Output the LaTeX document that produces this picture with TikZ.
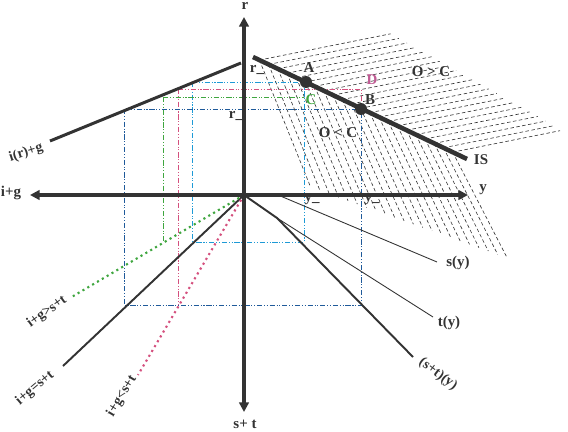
\documentclass[tikz,border=0pt]{standalone}
\usepackage{fontspec}
\setmainfont{Liberation Serif}
\usetikzlibrary{arrows.meta}
\definecolor{cyanl}{HTML}{1E9AD6}
\definecolor{darkb}{HTML}{1F5A9A}
\definecolor{pinkl}{HTML}{D4507E}
\definecolor{greenl}{HTML}{3FA63F}
\definecolor{dlab}{HTML}{C05C94}
\definecolor{ink}{HTML}{333333}
\begin{document}
\begin{tikzpicture}[x=0.02cm,y=-0.02cm,
  font=\fontsize{8.5}{10}\selectfont\bfseries,
  axis/.style={line width=2pt, draw=ink, {Triangle[length=5.5pt,width=5.5pt]}-{Triangle[length=5.5pt,width=5.5pt]}},
  guide/.style={line width=0.55pt, dash pattern=on 3pt off 1pt on 0.6pt off 1pt on 0.6pt off 1pt},
  hatch/.style={line width=0.35pt, draw=ink, dash pattern=on 2pt off 1.4pt},
  dotline/.style={line width=1.2pt, dash pattern=on 1.2pt off 2pt},
  lab/.style={inner sep=0pt, text=ink},
  rlab/.style={inner sep=0pt, text=ink, font=\fontsize{8}{9}\selectfont\bfseries},
  pt/.style={circle, fill=ink, inner sep=0pt, minimum size=0.24cm}]
\useasboundingbox (0,0) rectangle (568,432);
% coordinates
\coordinate (O) at (244,195);
\coordinate (rtop) at (244,17);
\coordinate (sbot) at (244,412);
\coordinate (xl) at (30,195);
\coordinate (xr) at (468,195);
\coordinate (IS0) at (253,57);
\coordinate (IS1) at (467,159);
\coordinate (I0) at (50,141);
\coordinate (I1) at (241,63);
\coordinate (A) at (306,82);
\coordinate (B) at (361,109);
\coordinate (D) at (361,89);
\coordinate (C) at (304,97);
\coordinate (iA) at (192,82);
\coordinate (iD) at (178,89);
\coordinate (iC) at (163,97);
\coordinate (iB) at (124,109);
\coordinate (A2) at (304,82);
\coordinate (A3) at (304,242);
\coordinate (iA2) at (192,242);
\coordinate (iC2) at (163,243);
\coordinate (iD2) at (178,305);
\coordinate (iB2) at (124,305);
\coordinate (B2) at (361,305);
\coordinate (E45) at (63,366);
\coordinate (Gend) at (70,298);
\coordinate (Pend) at (138,375);
\coordinate (s0) at (278,195);
\coordinate (s1) at (437,262);
\coordinate (kink) at (277,218);
\coordinate (st1) at (413,357);
\coordinate (t1) at (433,317);
% hatching above IS
\foreach \i in {0,...,21}{
  \pgfmathsetmacro{\s}{0.03+\i*0.043}
  \pgfmathsetmacro{\sx}{253+214*\s}
  \pgfmathsetmacro{\sy}{57+102*\s}
  \pgfmathsetmacro{\ex}{min(560,385+190*\s)}
  \pgfmathsetmacro{\ey}{\sy-0.2*(\ex-\sx)}
  \draw[hatch] (\sx,\sy) -- (\ex,\ey);
}
% hatching below IS
\foreach \i in {0,...,21}{
  \pgfmathsetmacro{\s}{0.03+\i*0.043}
  \pgfmathsetmacro{\sx}{253+214*\s}
  \pgfmathsetmacro{\sy}{57+102*\s}
  \pgfmathsetmacro{\ey}{185+78*\s}
  \pgfmathsetmacro{\k}{2.5-0.6*\s}
  \pgfmathsetmacro{\ex}{\sx+(\ey-\sy)/\k}
  \draw[hatch] (\sx,\sy) -- (\ex,\ey);
}
% guide lines
\draw[guide, cyanl] (iA) -- (A);
\draw[guide, cyanl] (iA) -- (iA2) -- (A3) -- (A2);
\draw[guide, pinkl] (iD) -- (D) -- (B);
\draw[guide, pinkl] (iD) -- (iD2);
\draw[guide, greenl] (iC) -- (C);
\draw[guide, greenl] (iC) -- (iC2);
\draw[guide, darkb] (iB) -- (B);
\draw[guide, darkb] (iB) -- (iB2) -- (B2) -- (B);
% third quadrant
\draw[line width=1.1pt, ink] (O) -- (E45);
\draw[dotline, greenl] (O) -- (Gend);
\draw[dotline, pinkl] (O) -- (Pend);
% fourth quadrant
\draw[line width=0.5pt, ink] (s0) -- (s1);
\draw[line width=0.5pt, ink] (kink) -- (t1);
\draw[line width=1.1pt, ink] (O) -- (kink) -- (st1);
% second quadrant
\draw[line width=1.7pt, ink] (I0) -- (I1);
% axes
\draw[axis] (xl) -- (xr);
\draw[axis] (sbot) -- (rtop);
% IS
\draw[line width=2.6pt, ink] (IS0) -- (IS1);
\node[pt] (pA) at (A) {};
\node[pt] (pB) at (B) {};
% labels
\node[lab] (lr) at (245,6) {r};
\node[lab] (lst) at (245,424) {s+ t};
\node[lab] (ly) at (483,190) {y};
\node[lab] (lig) at (11,193) {i+g};
\node[lab] (lIS) at (481,160) {IS};
\node[lab] (lA) at (309,68) {A};
\node[lab] (lB) at (370,100) {B};
\node[lab, text=dlab] (lD) at (372,80) {D};
\node[lab, text=greenl] (lC) at (311,100) {C};
\node[lab] (lr1) at (257,70) {r\_};
\node[lab] (lr2) at (236,116) {r\_};
\node[lab] (ly1) at (312,200) {y\_};
\node[lab] (ly2) at (372,200) {y\_};
\node[lab] (lOgC) at (431,72) {O > C};
\node[lab] (lOlC) at (338,133) {O < C};
\node[lab] (lsy) at (458,263) {s(y)};
\node[lab] (lty) at (449,323) {t(y)};
\node[rlab, rotate=-37] (lsty) at (438,374) {(s+t)(y)};
\node[rlab, rotate=18] (lirg) at (26,153) {i(r)+g};
\node[rlab, rotate=36] (lgt) at (47,312) {i+g>s+t};
\node[rlab, rotate=40] (leq) at (35,388) {i+g=s+t};
\node[rlab, rotate=59] (llt) at (122,396) {i+g<s+t};
\end{tikzpicture}
\end{document}
